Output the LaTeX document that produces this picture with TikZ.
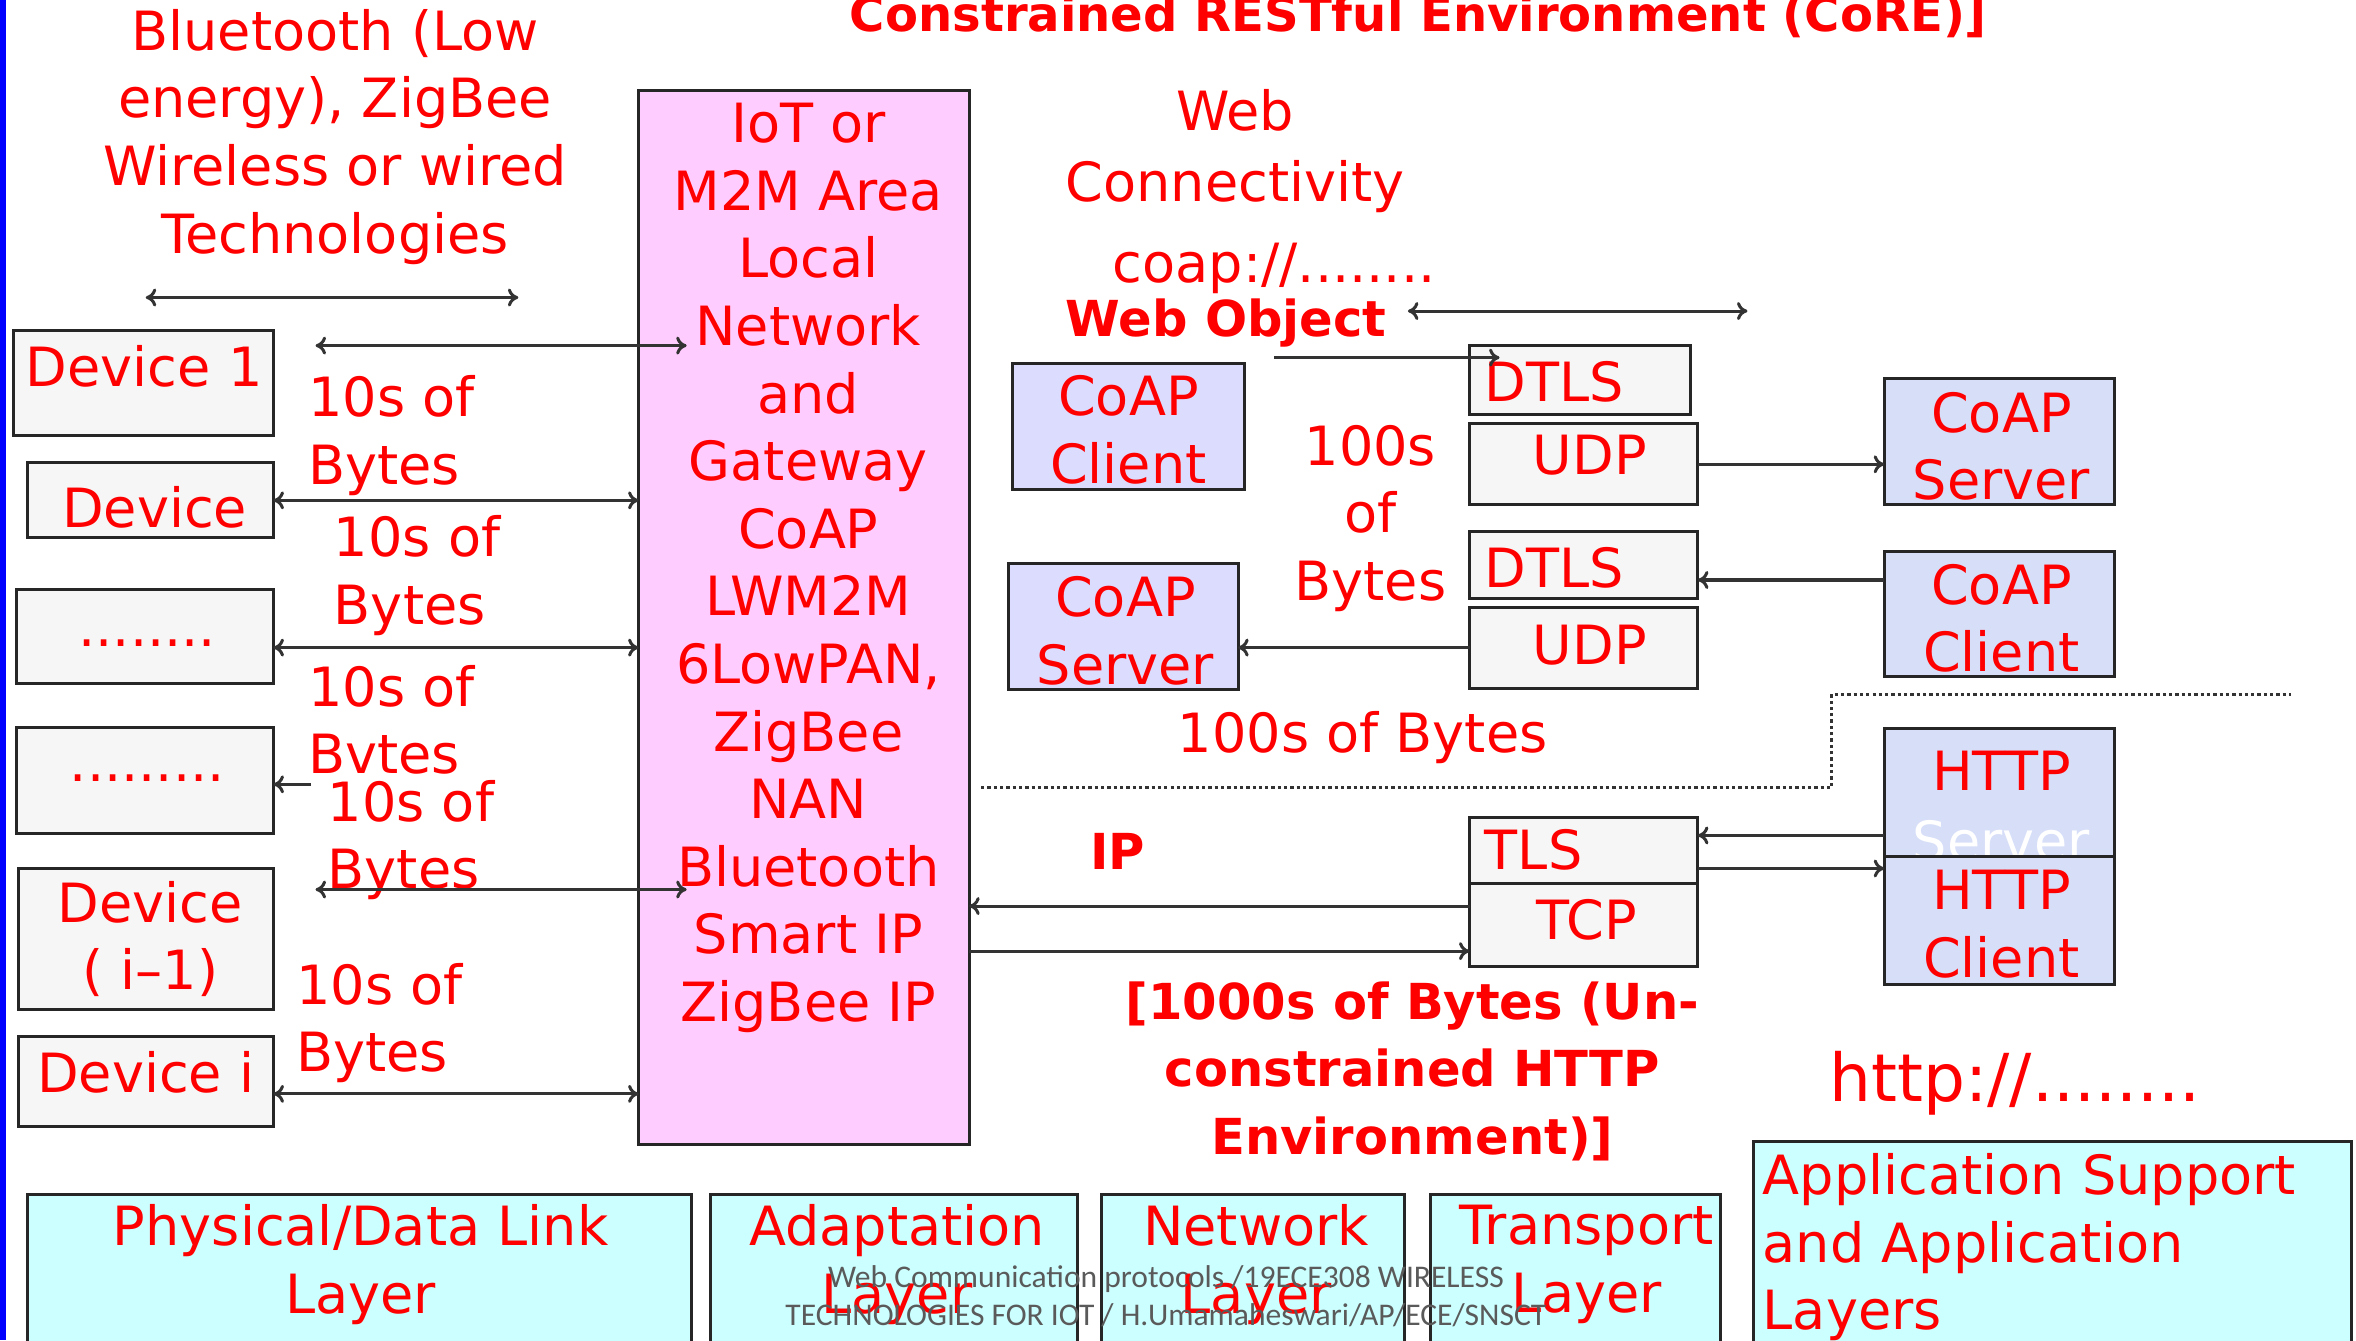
\documentclass[tikz,border=0pt]{standalone}
\usepackage{fontspec}
\setmainfont{DejaVu Sans}
\newfontfamily\footfont{Carlito}
\usetikzlibrary{arrows.meta,calc}
\definecolor{pinkfill}{HTML}{FFCCFF}
\definecolor{devfill}{HTML}{F6F6F6}
\definecolor{lavfill}{HTML}{DCDCFF}
\definecolor{bluefill}{HTML}{D6DEF8}
\definecolor{cyanfill}{HTML}{CCFFFF}
\definecolor{txtred}{HTML}{FF0000}
\definecolor{footgray}{HTML}{5A5A5A}
\definecolor{edgeblue}{HTML}{0000FF}
\begin{document}
\begin{tikzpicture}[x=1pt,y=-1pt,
  box/.style={draw=black!85, line width=2pt, inner sep=0pt, outer sep=0pt},
  t/.style={text=txtred, font=\fontsize{36}{45}\selectfont, inner sep=0pt, align=center},
  tl/.style={text=txtred, font=\fontsize{36}{45}\selectfont, inner sep=0pt, align=left},
  tb/.style={text=txtred, font=\fontsize{33}{45}\selectfont\bfseries, inner sep=0pt, align=center},
  foot/.style={text=footgray, font=\footfont\fontsize{21}{25}\selectfont, inner sep=0pt, align=center},
  arr/.style={draw=black!80, line width=2pt, -{To[length=7pt,width=12pt]}},
  darr/.style={draw=black!80, line width=2pt, {To[length=7pt,width=12pt]}-{To[length=7pt,width=12pt]}},
  dotline/.style={draw=black!80, line width=2.2pt, dotted},
]
\useasboundingbox (0,0) rectangle (1568,892);
\clip (0,0) rectangle (1568,892);
\fill[edgeblue] (0,0) rectangle (4,892);

% title
\node[tb, anchor=base, font=\fontsize{32}{45}\selectfont\bfseries] (title) at (944,21) {Constrained RESTful Environment (CoRE)]};

% left top text
\node[t] (bt) at (223,91) {Bluetooth (Low\\energy), ZigBee\\Wireless or wired\\Technologies};
\coordinate (tA) at (97,198);
\coordinate (tB) at (345,198);
\draw[darr] (tA) -- (tB);

% pink gateway box
\node[box, fill=pinkfill, minimum width=220pt, minimum height=702pt] (pink) at (535,411) {};
\node[t] (pinktxt) at (538,378) {IoT or\\M2M Area\\Local\\Network\\and\\Gateway\\CoAP\\LWM2M\\6LowPAN,\\ZigBee\\NAN\\Bluetooth\\Smart IP\\ZigBee IP};

% devices
\node[box, fill=devfill, minimum width=173pt, minimum height=70pt] (d1) at (95.5,255) {};
\node[box, fill=devfill, minimum width=164pt, minimum height=50pt] (d2) at (100,333) {};
\node[box, fill=devfill, minimum width=171pt, minimum height=63pt] (d3) at (96.5,423.5) {};
\node[box, fill=devfill, minimum width=171pt, minimum height=71pt] (d4) at (96.5,519.5) {};
\node[box, fill=devfill, minimum width=170pt, minimum height=94pt] (d5) at (97,625) {};
\node[box, fill=devfill, minimum width=170pt, minimum height=60pt] (d6) at (97,720) {};
\node[t, anchor=base] (d1t) at (96,257) {Device 1};
\node[t, anchor=base] (d2t) at (103,351) {Device};
\node[t, anchor=base] (d3t) at (98,430) {........};
\node[t, anchor=base] (d4t) at (98,520) {.........};
\node[t] (d5t) at (100,625) {Device\\( i–1)};
\node[t, anchor=base] (d6t) at (97,727) {Device i};

% bytes labels
\node[tl, anchor=west] (b1) at (205,290) {10s of\\Bytes};
\node[tl, anchor=west] (b2) at (222,383) {10s of\\Bytes};
\node[tl, anchor=west] (b3) at (205,479) {10s of\\Bvtes};
\node[tl, anchor=west] (b4) at (218,559) {10s of\\Bytes};
\node[tl, anchor=west] (b5) at (197,681) {10s of\\Bytes};

% device arrows
\coordinate (a1s) at (210,230);
\coordinate (a1e) at (457,230);
\draw[darr] (a1s) -- (a1e);
\draw[darr] (d2.east) -- (d2.east -| pink.west);
\draw[darr] ([yshift=-7.5pt]d3.east) -- ([yshift=-7.5pt]d3.east -| pink.west);
\coordinate (a4s) at (207,522);
\draw[arr] (a4s) -- (a4s -| d4.east);
\coordinate (a5s) at (210,592);
\coordinate (a5e) at (457,592);
\draw[darr] (a5s) -- (a5e);
\draw[darr] ([yshift=-8pt]d6.east) -- ([yshift=-8pt]d6.east -| pink.west);

% web connectivity texts
\node[t, anchor=base] (web) at (822,87) {Web};
\node[t, anchor=base] (conn) at (822,134) {Connectivity};
\node[t, anchor=base] (coap) at (848,188) {coap://........};
\node[tb, anchor=base] (wobj) at (816,224) {Web Object};
\coordinate (wA) at (937,207);
\coordinate (wB) at (1163,207);
\draw[darr] (wA) -- (wB);

% CoAP boxes
\node[box, fill=lavfill, minimum width=154pt, minimum height=84pt] (cc1) at (751,284) {};
\node[box, fill=lavfill, minimum width=153pt, minimum height=84pt] (cs1) at (747.5,417) {};
\node[box, fill=bluefill, minimum width=153pt, minimum height=84pt] (cs2) at (1330.5,294) {};
\node[box, fill=bluefill, minimum width=153pt, minimum height=83pt] (cc2) at (1330.5,408.5) {};
\node[t] (cc1t) at (751,286) {CoAP\\Client};
\node[t] (cs1t) at (749,420) {CoAP\\Server};
\node[t] (cs2t) at (1332,297) {CoAP\\Server};
\node[t] (cc2t) at (1332,411.5) {CoAP\\Client};

% DTLS/UDP stacks
\node[box, fill=devfill, minimum width=147pt, minimum height=46pt] (dtls1) at (1051.5,253) {};
\node[box, fill=devfill, minimum width=152pt, minimum height=54pt] (udp1) at (1054,309) {};
\node[box, fill=devfill, minimum width=152pt, minimum height=44pt] (dtls2) at (1054,376) {};
\node[box, fill=devfill, minimum width=152pt, minimum height=54pt] (udp2) at (1054,431) {};
\node[t, anchor=base west] (dtls1t) at (988,267) {DTLS};
\node[t, anchor=base] (udp1t) at (1058,316) {UDP};
\node[t, anchor=base west] (dtls2t) at (988,391) {DTLS};
\node[t, anchor=base] (udp2t) at (1058,442) {UDP};

\coordinate (wo) at (848,238);
\draw[arr] (wo) -- ([xshift=20pt]wo -| dtls1.west);
\draw[arr] (udp1.east) -- (udp1.east -| cs2.west);
\draw[arr] ([yshift=-10pt]dtls2.east -| cc2.west) -- ([yshift=-10pt]dtls2.east);
\draw[arr] (udp2.west) -- (udp2.west -| cs1.east);

\node[t] (b100a) at (912,345) {100s\\of\\Bytes};
\node[t, anchor=base] (b100b) at (907,501) {100s of Bytes};

% dotted separator
\coordinate (s1) at (653,524);
\coordinate (s2) at (1219,524);
\coordinate (s3) at (1219,462);
\coordinate (s4) at (1525,462);
\draw[dotline] (s1) -- (s2) -- (s3) -- (s4);

% HTTP boxes
\node[box, fill=bluefill, minimum width=153pt, minimum height=85pt] (hs) at (1330.5,527.5) {};
\node[t, anchor=base] (hst) at (1332,526) {HTTP};
\node[t, anchor=base, text=white] (hsw) at (1332,573) {Server};
\node[box, fill=bluefill, minimum width=153pt, minimum height=85pt] (hc) at (1330.5,612.5) {};
\node[t] (hct) at (1332,615) {HTTP\\Client};

\node[box, fill=devfill, minimum width=152pt, minimum height=44pt] (tls) at (1054,566) {};
\node[box, fill=devfill, minimum width=152pt, minimum height=55pt] (tcp) at (1054,615.5) {};
\node[t, anchor=base west] (tlst) at (988,579) {TLS};
\node[t, anchor=base] (tcpt) at (1056,625) {TCP};

\draw[arr] ([yshift=10pt]tls.east -| hs.west) -- ([yshift=10pt]tls.east);
\draw[arr] ([yshift=-12pt]tls.east) -- ([yshift=-12pt]tls.east -| hc.west);
\draw[arr] ([yshift=12.5pt]tcp.west) -- ([yshift=12.5pt]tcp.west -| pink.east);
\draw[arr] ([yshift=-17.5pt]tcp.west -| pink.east) -- ([yshift=-17.5pt]tcp.west);

\node[tb, anchor=base] (ip) at (744,579) {IP};
\node[tb] (http1000) at (940,713) {[1000s of Bytes (Un-\\constrained HTTP\\Environment)]};
\node[t, anchor=base, font=\fontsize{44}{45}\selectfont] (httpurl) at (1341,733) {http://........};

% layer boxes
\node[box, fill=cyanfill, minimum width=442pt, minimum height=120pt] (L1) at (239,855) {};
\node[box, fill=cyanfill, minimum width=244pt, minimum height=120pt] (L2) at (595,855) {};
\node[box, fill=cyanfill, minimum width=202pt, minimum height=120pt] (L3) at (834,855) {};
\node[box, fill=cyanfill, minimum width=193pt, minimum height=120pt] (L4) at (1048.5,855) {};
\node[box, fill=cyanfill, minimum width=398pt, minimum height=160pt] (L5) at (1366,840) {};
\node[t] (L1t) at (240,841.5) {Physical/Data Link\\Layer};
\node[t] (L2t) at (597,841.5) {Adaptation\\Layer};
\node[t] (L3t) at (836,841.5) {Network\\Layer};
\node[t] (L4t) at (1056,841.5) {Transport\\Layer};
\node[tl, anchor=west] (L5t) at (1173,830) {Application Support\\and Application\\Layers};

% footer
\node[foot] (ft) at (776,862.5) {Web Communication protocols /19ECE308 WIRELESS\\TECHNOLOGIES FOR IOT / H.Umamaheswari/AP/ECE/SNSCT};
\end{tikzpicture}
\end{document}
